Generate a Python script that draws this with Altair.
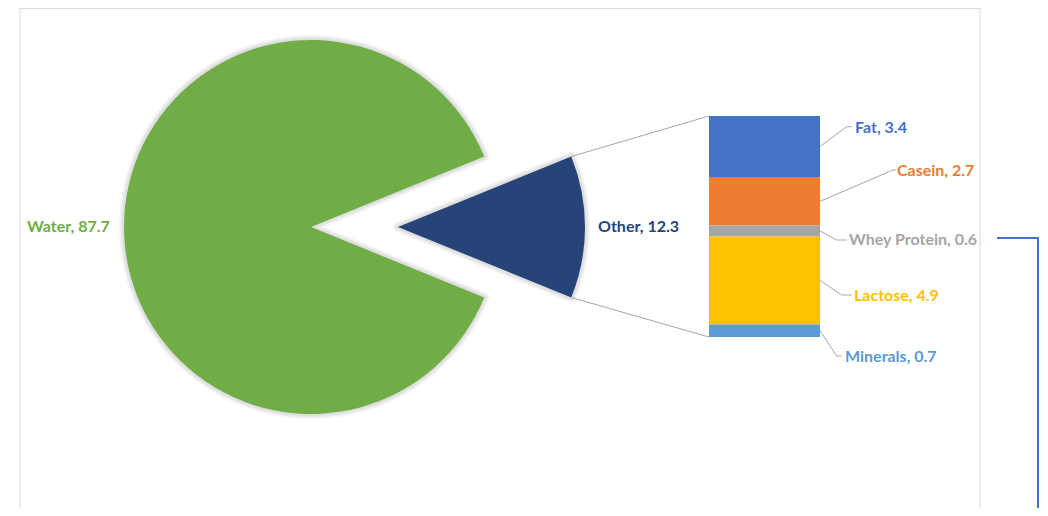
import math
import altair as alt
import pandas as pd

# ---- data ----
PIE_NAMES = ["Other", "Water"]
PIE_VALUES = [12.3, 87.7]
BAR_NAMES = ["Fat", "Casein", "Whey Protein", "Lactose", "Minerals"]
BAR_VALUES = [3.4, 2.7, 0.6, 4.9, 0.7]

# ---- styles ----
COLOR_DOMAIN = PIE_NAMES + BAR_NAMES
COLOR_RANGE = ["#264478", "#70AD47", "#4472C4", "#ED7D31", "#A5A5A5", "#FFC000", "#5B9BD5"]
FONT = "Lato"
FS = 16

W, H = 1032, 500
PIE_C = (303, 219)
OTHER_C = (390, 219)
R = 187
BAR_X0, BAR_X1 = 701, 812
BAR_PIX = [329, 108]

pie_df = pd.DataFrame({"name": PIE_NAMES, "value": PIE_VALUES, "idx": list(range(len(PIE_NAMES)))})
pie_df["label"] = [f"{n}, {v}" for n, v in zip(PIE_NAMES, PIE_VALUES)]
bar_df = pd.DataFrame({"name": BAR_NAMES, "value": BAR_VALUES,
                       "sidx": list(range(len(BAR_NAMES)))[::-1]})
bar_df["label"] = [f"{n}, {v}" for n, v in zip(BAR_NAMES, BAR_VALUES)]

total = sum(PIE_VALUES)
other = PIE_VALUES[0]
start = math.pi / 2 - math.pi * other / total
half = math.pi * other / total

color = alt.Color("name:N", scale=alt.Scale(domain=COLOR_DOMAIN, range=COLOR_RANGE), legend=None)
theta = alt.Theta("value:Q", stack=True, scale=alt.Scale(range=[start, start + 2 * math.pi]))
order = alt.Order("idx:Q")
bar_total = sum(BAR_VALUES)
yscale = alt.Scale(domain=[0, bar_total], range=BAR_PIX)

layers = []

# frame
frame_col = "#D9D9D9"
layers.append(alt.Chart(pie_df.head(1)).mark_rule(color=frame_col, strokeWidth=1).encode(
    x=alt.value(12), y=alt.value(0.5), y2=alt.value(H)))
layers.append(alt.Chart(pie_df.head(1)).mark_rule(color=frame_col, strokeWidth=1).encode(
    x=alt.value(972), y=alt.value(0.5), y2=alt.value(H)))
layers.append(alt.Chart(pie_df.head(1)).mark_rule(color=frame_col, strokeWidth=1).encode(
    x=alt.value(12), x2=alt.value(972), y=alt.value(0.5)))


def pie_layer(show, center):
    op = alt.when(alt.datum.name == show).then(alt.value(1)).otherwise(alt.value(0))
    out = []
    for w in [10, 7, 4]:
        out.append(alt.Chart(pie_df).mark_arc(radius=R, stroke="#000000", strokeWidth=w,
                                              strokeOpacity=0.045, fillOpacity=0, strokeJoin="round").encode(
            theta=theta, order=order, opacity=op,
            x=alt.value(center[0]), y=alt.value(center[1])))
    out.append(alt.Chart(pie_df).mark_arc(radius=R).encode(
        theta=theta, order=order, color=color, opacity=op,
        x=alt.value(center[0]), y=alt.value(center[1])))
    return out


layers += pie_layer("Water", PIE_C)
layers += pie_layer("Other", OTHER_C)

# connector lines pie -> bar
ex = OTHER_C[0] + R * math.cos(half)
ey_top = OTHER_C[1] - R * math.sin(half)
ey_bot = OTHER_C[1] + R * math.sin(half)
conn_top = pd.DataFrame({"yv": [bar_total]})
conn_bot = pd.DataFrame({"yv": [0.0]})
conn_col = "#A6A6A6"
layers.append(alt.Chart(conn_top).mark_rule(color=conn_col, strokeWidth=1).encode(
    y=alt.Y("yv:Q", scale=yscale, axis=None), x=alt.value(BAR_X0), x2=alt.value(ex), y2=alt.value(ey_top)))
layers.append(alt.Chart(conn_bot).mark_rule(color=conn_col, strokeWidth=1).encode(
    y=alt.Y("yv:Q", scale=yscale, axis=None), x=alt.value(BAR_X0), x2=alt.value(ex), y2=alt.value(ey_bot)))

# stacked bar (stack computed by Vega-Lite)
stacked = (alt.Chart(bar_df)
           .transform_stack(stack="value", groupby=[], as_=["y0", "y1"], sort=[alt.SortField("sidx")])
           .transform_calculate(mid="(datum.y0 + datum.y1) / 2"))
layers.append(stacked.mark_rect().encode(
    y=alt.Y("y0:Q", scale=yscale, axis=None), y2="y1:Q",
    color=color,
    x=alt.value(BAR_X0), x2=alt.value(BAR_X1)))

# leader lines and labels for bar segments
LEADER = {
    "Fat": ((838.7, 118.7), (843.7, 118.7), (847, 120)),
    "Casein": ((885, 162), (888, 162), (889, 163)),
    "Whey Protein": ((828.7, 232), (838.7, 232), (841, 232)),
    "Lactose": ((833.7, 287), (843.7, 287), (846, 288)),
    "Minerals": ((828.7, 348), (833.7, 348), (837, 349)),
}
for i, n in enumerate(BAR_NAMES):
    (p1, p2, lt) = LEADER[n]
    base = stacked.transform_filter(alt.datum.name == n)
    layers.append(base.mark_rule(color=conn_col, strokeWidth=1).encode(
        y=alt.Y("mid:Q", scale=yscale, axis=None), x=alt.value(BAR_X1),
        x2=alt.value(p1[0]), y2=alt.value(p1[1])))
    layers.append(base.mark_rule(color=conn_col, strokeWidth=1).encode(
        x=alt.value(p1[0]), x2=alt.value(p2[0]), y=alt.value(p1[1])))
    layers.append(alt.Chart(bar_df).transform_filter(alt.datum.name == n).mark_text(
        align="left", baseline="middle", font=FONT, fontSize=FS, fontWeight="bold",
        color=COLOR_RANGE[COLOR_DOMAIN.index(n)]).encode(
        text="label:N", x=alt.value(lt[0]), y=alt.value(lt[1])))

# pie labels
PIE_LABEL_POS = {"Water": (19, 219), "Other": (590, 219)}
for n in PIE_NAMES:
    pos = PIE_LABEL_POS[n]
    layers.append(alt.Chart(pie_df).transform_filter(alt.datum.name == n).mark_text(
        align="left", baseline="middle", font=FONT, fontSize=FS, fontWeight="bold",
        color=COLOR_RANGE[COLOR_DOMAIN.index(n)]).encode(
        text="label:N", x=alt.value(pos[0]), y=alt.value(pos[1])))

# blue connector at right edge
blue = "#4472C4"
layers.append(alt.Chart(pie_df.head(1)).mark_rule(color=blue, strokeWidth=2).encode(
    x=alt.value(989), x2=alt.value(1031), y=alt.value(230)))
layers.append(alt.Chart(pie_df.head(1)).mark_rule(color=blue, strokeWidth=2).encode(
    x=alt.value(1030), y=alt.value(230), y2=alt.value(H)))

chart = alt.layer(*layers).properties(
    width=W, height=H, autosize=alt.AutoSizeParams(type="none"), padding=0,
    background="white"
).configure_view(stroke=None)

chart.save("out.html", embed_options={"renderer": "svg", "actions": False})
